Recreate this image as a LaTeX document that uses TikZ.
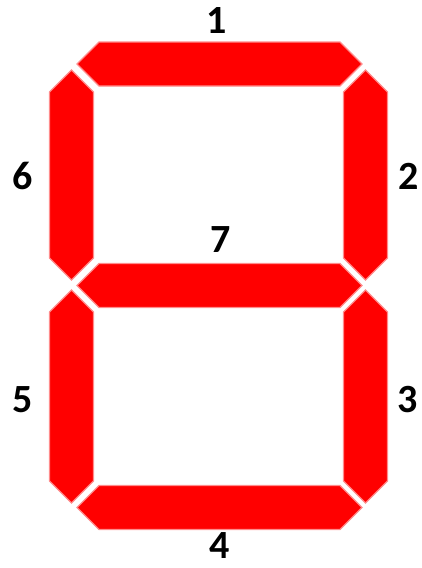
\documentclass[tikz,border=0pt]{standalone}
\usepackage{fontspec}
\setmainfont{Carlito}
\begin{document}
\begin{tikzpicture}[x=1pt,y=-1pt,
  seg/.style={fill={rgb,255:red,255;green,0;blue,0},draw={rgb,255:red,255;green,140;blue,140},line width=1.2pt,line join=miter},
  lbl/.style={font=\fontsize{40}{40}\selectfont\bfseries,text=black,inner sep=0pt,anchor=center}]
\useasboundingbox (0,0) rectangle (421,568);
% horizontal segments
\foreach \n/\cy in {top/64, mid/285.5, bot/507.5}{
  \fill[seg] (77,\cy) -- (99,\cy-22) -- (340,\cy-22) -- (362,\cy) -- (340,\cy+22) -- (99,\cy+22) -- cycle;
}
% vertical segments
\foreach \n/\cx/\ya/\yb in {six/71.5/70/280, two/365.5/70/280, five/71.5/290/503, three/365.5/290/503}{
  \fill[seg] (\cx,\ya) -- (\cx+22,\ya+22) -- (\cx+22,\yb-22) -- (\cx,\yb) -- (\cx-22,\yb-22) -- (\cx-22,\ya+22) -- cycle;
}
\node[lbl] (l1) at (217,21) {1};
\node[lbl] (l6) at (23,176) {6};
\node[lbl] (l2) at (409,176) {2};
\node[lbl] (l7) at (221,240) {7};
\node[lbl] (l5) at (23,400) {5};
\node[lbl] (l3) at (408,400) {3};
\node[lbl] (l4) at (220,546) {4};
\end{tikzpicture}
\end{document}
